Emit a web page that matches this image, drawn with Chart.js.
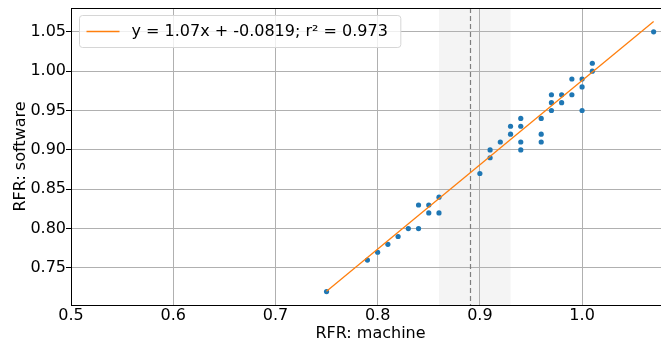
<!DOCTYPE html>
<html>
<head>
<meta charset="utf-8">
<script src="https://cdn.jsdelivr.net/npm/chart.js@4.4.0/dist/chart.umd.min.js"></script>
<style>
  html, body { margin: 0; padding: 0; background: #fff; overflow: hidden; }
</style>
</head>
<body>
<!-- a little wider than the window: the plot area runs past the right edge, like the original -->
<canvas id="rfr-chart" width="674" height="345"></canvas>
<script>
// RFR measured by machine vs. by software
const machine = [0.75, 0.79, 0.80, 0.81, 0.82, 0.83, 0.84, 0.84, 0.85, 0.85, 0.86, 0.86,
                 0.90, 0.91, 0.91, 0.92, 0.93, 0.93, 0.94, 0.94, 0.94, 0.94, 0.96, 0.96, 0.96,
                 0.97, 0.97, 0.97, 0.98, 0.98, 0.99, 0.99, 1.00, 1.00, 1.00, 1.01, 1.01, 1.07];
const software = [0.72, 0.76, 0.77, 0.78, 0.79, 0.80, 0.80, 0.83, 0.83, 0.82, 0.82, 0.84,
                  0.87, 0.89, 0.90, 0.91, 0.92, 0.93, 0.94, 0.93, 0.91, 0.90, 0.94, 0.92, 0.91,
                  0.95, 0.96, 0.97, 0.96, 0.97, 0.97, 0.99, 0.99, 0.98, 0.95, 1.01, 1.00, 1.05];

// regression line
const fitSlope = 1.07;
const fitIntercept = -0.0819;
const fitR2 = 0.973;
const fitX = [0.75, 1.07];
const fitLabel = 'y = ' + fitSlope + 'x + ' + fitIntercept + '; r\u00B2 = ' + fitR2;

// grey band + dashed marker
const bandRange = [0.86, 0.93];
const dashedAt = 0.89;

const xTicks = [0.5, 0.6, 0.7, 0.8, 0.9, 1.0];
const yTicks = [0.75, 0.80, 0.85, 0.90, 0.95, 1.00, 1.05];

const FONT = 'DejaVu Sans';

const ctx = document.getElementById('rfr-chart').getContext('2d');

// shaded band, drawn before the grid so grid lines sit on top of it
const bandPlugin = {
    id: 'band',
    beforeDraw(chart) {
        const { ctx, chartArea: a, scales: { x } } = chart;
        const x0 = x.getPixelForValue(bandRange[0]);
        const x1 = x.getPixelForValue(bandRange[1]);
        ctx.save();
        ctx.fillStyle = '#f4f4f4';
        ctx.fillRect(x0, a.top, x1 - x0, a.bottom - a.top);
        ctx.restore();
    },
    beforeDatasetsDraw(chart) {
        const { ctx, chartArea: a, scales: { x } } = chart;
        const px = Math.round(x.getPixelForValue(dashedAt)) + 0.5;
        ctx.save();
        ctx.strokeStyle = '#7f7f7f';
        ctx.lineWidth = 1.2;
        ctx.setLineDash([5, 3]);
        ctx.beginPath();
        ctx.moveTo(px, a.top);
        ctx.lineTo(px, a.bottom);
        ctx.stroke();
        ctx.restore();
    }
};

// frame + legend box in the upper left corner
const legendPlugin = {
    id: 'boxLegend',
    afterDatasetsDraw(chart) {
        const { ctx, chartArea: a } = chart;
        ctx.save();
        ctx.strokeStyle = '#000';
        ctx.lineWidth = 1;
        ctx.strokeRect(a.left + 0.5, a.top + 0.5, a.right - a.left - 1, a.bottom - a.top);

        ctx.font = '16px "' + FONT + '"';
        const tw = ctx.measureText(fitLabel).width;
        const bx = a.left + 8.5, by = a.top + 7.5;
        const bw = 7 + 33 + 12 + tw + 13, bh = 32;
        ctx.beginPath();
        ctx.roundRect(bx, by, bw, bh, 3);
        ctx.fillStyle = 'rgba(255,255,255,0.8)';
        ctx.fill();
        ctx.strokeStyle = '#d6d6d6';
        ctx.stroke();

        const ly = by + bh / 2;
        ctx.strokeStyle = '#ff7f0e';
        ctx.lineWidth = 1.4;
        ctx.beginPath();
        ctx.moveTo(bx + 7, ly);
        ctx.lineTo(bx + 40, ly);
        ctx.stroke();

        ctx.fillStyle = '#000';
        ctx.textBaseline = 'middle';
        ctx.fillText(fitLabel, bx + 52, ly);
        ctx.restore();
    }
};

const chart = new Chart(ctx, {
    type: 'scatter',
    data: {
        datasets: [
            {
                type: 'line',
                label: fitLabel,
                data: fitX.map(x => ({ x: x, y: fitSlope * x + fitIntercept })),
                borderColor: '#ff7f0e',
                borderWidth: 1.3,
                pointRadius: 0,
                fill: false,
                order: 0
            },
            {
                label: 'data',
                data: machine.map((x, i) => ({ x: x, y: software[i] })),
                backgroundColor: '#1f77b4',
                borderWidth: 0,
                pointRadius: 2.6,
                order: 1
            }
        ]
    },
    options: {
        animation: false,
        responsive: false,
        layout: { padding: { top: 8, right: 1, left: 0, bottom: 0 } },
        scales: {
            x: {
                type: 'linear',
                min: 0.5,
                max: 1.086,
                afterBuildTicks: s => { s.ticks = xTicks.map(v => ({ value: v })); },
                afterFit: s => { s.height = 40; },
                grid: { color: '#b0b0b0', lineWidth: 1, drawTicks: false },
                border: { display: true, color: '#000', width: 1 },
                ticks: {
                    color: '#000', font: { family: FONT, size: 16 }, padding: 1,
                    maxRotation: 0, autoSkip: false,
                    callback: v => v.toFixed(1)
                },
                title: {
                    display: true, text: 'RFR: machine', color: '#000',
                    font: { family: FONT, size: 16 }, padding: { top: 0, bottom: 2 }
                }
            },
            y: {
                type: 'linear',
                min: 0.703,
                max: 1.0802,
                afterBuildTicks: s => { s.ticks = yTicks.map(v => ({ value: v })); },
                afterFit: s => { s.width = 71; },
                grid: { color: '#b0b0b0', lineWidth: 1, tickColor: '#000', tickLength: 5 },
                border: { display: true, color: '#000', width: 1 },
                ticks: {
                    color: '#000', font: { family: FONT, size: 16, lineHeight: 1 }, padding: 0,
                    autoSkip: false,
                    callback: v => v.toFixed(2)
                },
                title: {
                    display: true, text: 'RFR: software', color: '#000',
                    font: { family: FONT, size: 16 }, padding: { top: 11, bottom: 0 }
                }
            }
        },
        plugins: {
            legend: { display: false },
            tooltip: { enabled: false }
        }
    },
    plugins: [bandPlugin, legendPlugin]
});
</script>
</body>
</html>
